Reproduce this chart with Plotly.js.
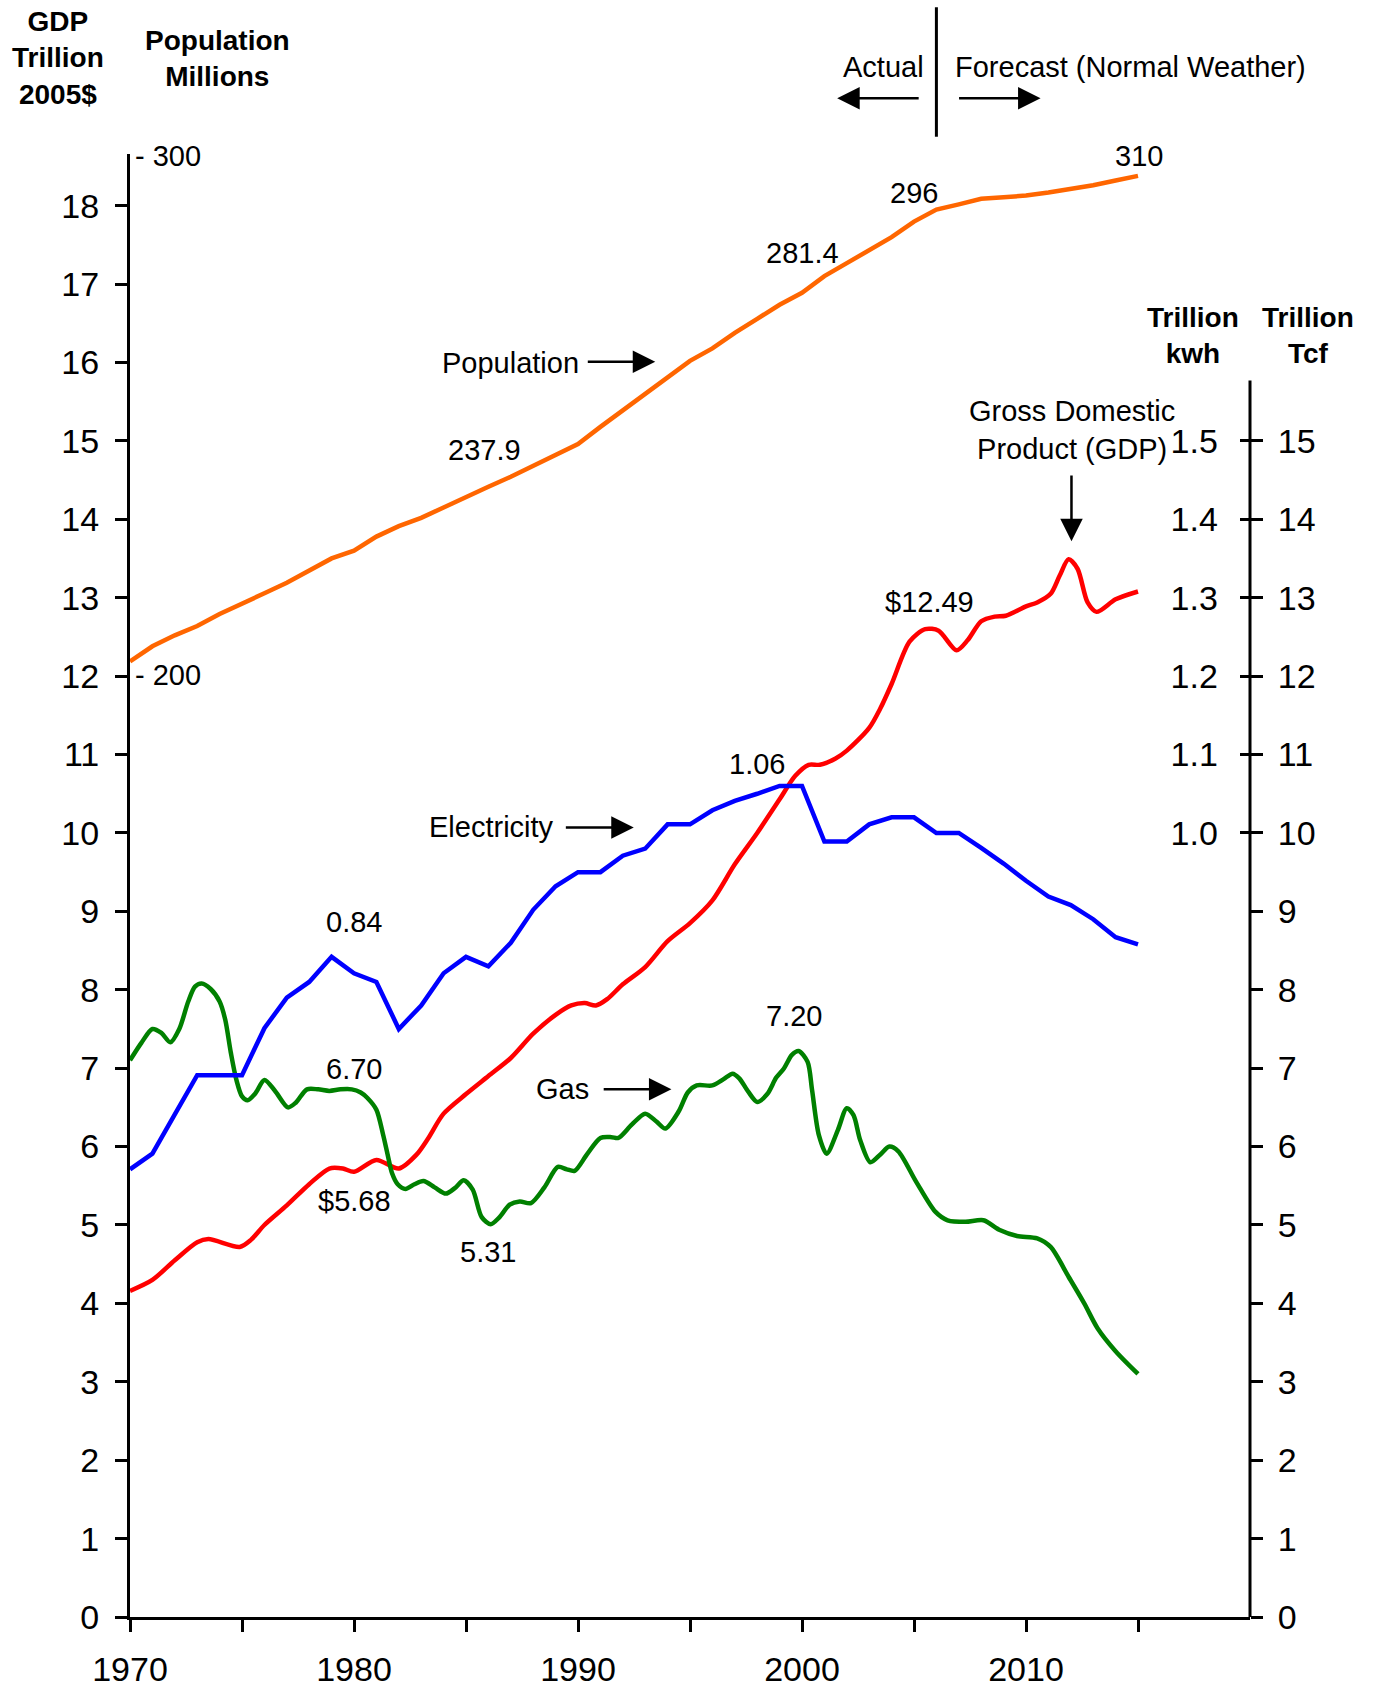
<!DOCTYPE html>
<html lang="en">
  <head>
    <meta charset="UTF-8" />
    <meta name="viewport" content="width=device-width, initial-scale=1.0" />
    <title>GDP, Population, Electricity and Gas</title>
    <script src="https://cdn.plot.ly/plotly-3.0.1.min.js"></script>
    <style>
      body { margin: 0; background: #fff; }
    </style>
  </head>
  <body>
    <div id="myDiv"></div>
    <script>
      var years = [
        1970, 1971, 1972, 1973, 1974, 1975, 1976, 1977, 1978, 1979,
        1980, 1981, 1982, 1983, 1984, 1985, 1986, 1987, 1988, 1989,
        1990, 1991, 1992, 1993, 1994, 1995, 1996, 1997, 1998, 1999,
        2000, 2001, 2002, 2003, 2004, 2005, 2006, 2007, 2008, 2009,
        2010, 2011, 2012, 2013, 2014, 2015,
      ];

      // population, millions (as drawn on the 200-300 scale)
      var population = [
        202.7, 205.6, 207.7, 209.5, 211.8, 213.7, 215.8, 217.8, 220.1, 222.5,
        224.0, 226.7, 228.7, 230.3, 232.3, 234.4, 236.3, 238.2, 240.3, 242.5,
        244.5, 247.8, 251.0, 254.1, 257.2, 260.5, 262.9, 265.9, 268.6, 271.3,
        273.6, 276.8, 279.3, 281.9, 284.3, 287.3, 289.6, 290.6, 291.7, 292.0,
        292.3, 292.9, 293.5, 294.3, 295.2, 296.1,
      ];

      // electricity, trillion kwh
      var electricity = [
        0.571, 0.591, 0.641, 0.691, 0.691, 0.691, 0.751, 0.790, 0.810, 0.842,
        0.821, 0.810, 0.750, 0.780, 0.821, 0.842, 0.830, 0.860, 0.902, 0.932,
        0.950, 0.950, 0.971, 0.980, 1.011, 1.011, 1.029, 1.041, 1.050, 1.060,
        1.060, 0.989, 0.989, 1.011, 1.020, 1.020, 1.000, 1.000, 0.981, 0.961,
        0.939, 0.919, 0.908, 0.890, 0.867, 0.858,
      ];

      // GDP, trillion 2005$
      var gdpYears = [
        1970, 1971, 1972, 1973, 1973.5, 1974.9, 1975.4, 1976, 1977, 1978,
        1978.9, 1979.5, 1980, 1981, 1982, 1982.8, 1983.3, 1984, 1985, 1986,
        1987, 1988, 1989, 1989.7, 1990.3, 1990.8, 1991.3, 1992, 1993, 1994,
        1995, 1996, 1997, 1998, 1999, 1999.7, 2000.3, 2000.8, 2001.5, 2002,
        2003, 2003.5, 2004, 2004.8, 2005.5, 2006.1, 2006.9, 2007.4, 2008, 2008.6,
        2009.1, 2010, 2010.5, 2011.1, 2011.5, 2011.9, 2012.3, 2012.75, 2013.15, 2014,
        2015,
      ];
      var gdp = [
        4.16, 4.30, 4.55, 4.78, 4.82, 4.72, 4.81, 5.00, 5.25, 5.52,
        5.72, 5.72, 5.68, 5.83, 5.72, 5.90, 6.10, 6.42, 6.67, 6.90,
        7.13, 7.44, 7.68, 7.80, 7.83, 7.80, 7.88, 8.07, 8.29, 8.62,
        8.85, 9.14, 9.60, 10.0, 10.43, 10.73, 10.87, 10.87, 10.95, 11.05,
        11.34, 11.59, 11.90, 12.44, 12.60, 12.58, 12.33, 12.46, 12.70, 12.76,
        12.77, 12.89, 12.94, 13.05, 13.28, 13.49, 13.37, 12.94, 12.82, 12.98,
        13.08,
      ];

      // natural gas, trillion cubic feet
      var gasYears = [
        1970.0, 1970.5, 1971.0, 1971.4, 1971.8, 1972.2, 1972.6, 1972.9, 1973.2, 1973.6,
        1974.0, 1974.25, 1974.5, 1974.75, 1975.0, 1975.25, 1975.6, 1976.0, 1976.5, 1977.05,
        1977.4, 1977.9, 1978.4, 1978.9, 1979.4, 1979.9, 1980.3, 1980.6, 1981.0, 1981.3,
        1981.5, 1981.7, 1981.95, 1982.3, 1982.7, 1983.1, 1983.6, 1984.1, 1984.5, 1984.9,
        1985.3, 1985.7, 1986.1, 1986.5, 1986.95, 1987.4, 1987.9, 1988.5, 1989.1, 1989.5,
        1989.85, 1990.4, 1991.0, 1991.5, 1991.8, 1992.4, 1993.0, 1993.5, 1993.9, 1994.5,
        1994.9, 1995.3, 1996.0, 1996.5, 1996.9, 1997.2, 1997.6, 1998.0, 1998.45, 1998.85,
        1999.2, 1999.55, 1999.85, 2000.25, 2000.45, 2000.75, 2001.1, 2001.6, 2002.0, 2002.3,
        2002.6, 2003.05, 2003.5, 2003.9, 2004.3, 2005.1, 2005.95, 2006.5, 2007.3, 2008.1,
        2008.8, 2009.6, 2010.5, 2011.1, 2011.9, 2012.6, 2013.2, 2014.0, 2015.0,
      ];
      var gas = [
        7.10, 7.32, 7.50, 7.45, 7.33, 7.50, 7.85, 8.04, 8.08, 8.01,
        7.85, 7.62, 7.20, 6.85, 6.64, 6.59, 6.68, 6.85, 6.70, 6.50,
        6.56, 6.73, 6.73, 6.71, 6.73, 6.73, 6.69, 6.62, 6.47, 6.15,
        5.90, 5.66, 5.52, 5.46, 5.52, 5.56, 5.48, 5.40, 5.47, 5.57,
        5.45, 5.10, 5.01, 5.10, 5.26, 5.30, 5.28, 5.48, 5.74, 5.71,
        5.69, 5.90, 6.11, 6.12, 6.11, 6.28, 6.42, 6.32, 6.23, 6.45,
        6.69, 6.78, 6.78, 6.86, 6.93, 6.87, 6.70, 6.57, 6.67, 6.88,
        7.00, 7.17, 7.22, 7.08, 6.72, 6.15, 5.91, 6.21, 6.49, 6.40,
        6.08, 5.80, 5.90, 6.00, 5.94, 5.55, 5.17, 5.06, 5.04, 5.06,
        4.94, 4.86, 4.83, 4.72, 4.34, 4.00, 3.68, 3.39, 3.10,
      ];

      var xTicks = [1970, 1975, 1980, 1985, 1990, 1995, 2000, 2005, 2010, 2015, 2020];
      var xTickText = ["1970", "", "1980", "", "1990", "", "2000", "", "2010", "", ""];
      var gdpTicks = [0, 1, 2, 3, 4, 5, 6, 7, 8, 9, 10, 11, 12, 13, 14, 15, 16, 17, 18];
      var tcfTicks = [0, 1, 2, 3, 4, 5, 6, 7, 8, 9, 10, 11, 12, 13, 14, 15];
      var kwhTicks = [1.0, 1.1, 1.2, 1.3, 1.4, 1.5];
      var popTicks = [200, 300];

      var font = "Liberation Sans, Arial, sans-serif";
      var yTop = 18.66;
      // population scale: 200 sits at 12.01 and 300 at 18.64 on the GDP scale
      var popPerUnit = 100 / (18.64 - 12.01);
      var popRange = [200 - 12.01 * popPerUnit, 200 + (yTop - 12.01) * popPerUnit];

      var data = [
        { x: years, y: population, yaxis: "y4", mode: "lines",
          line: { color: "#ff6600", width: 4.5 } },
        { x: gdpYears, y: gdp, mode: "lines",
          line: { color: "#ff0000", width: 4.5, shape: "spline", smoothing: 0.8 } },
        { x: years, y: electricity, yaxis: "y3", mode: "lines",
          line: { color: "#0000ff", width: 4.5 } },
        { x: gasYears, y: gas, yaxis: "y2", mode: "lines",
          line: { color: "#008000", width: 4.5, shape: "spline", smoothing: 0.8 } },
      ];
      data.forEach(function (t) { t.showlegend = false; t.hoverinfo = "skip"; });

      const txt = (text, x, y, extra) =>
        Object.assign({ text: text, x: x, y: y, xref: "x", yref: "y", showarrow: false,
          xanchor: "center", yanchor: "middle",
          font: { family: font, size: 29, color: "#000" } }, extra || {});
      const arrow = (x, y, ax, ay, extra) =>
        Object.assign({ text: "", x: x, y: y, ax: ax, ay: ay, xref: "x", yref: "y",
          axref: "x", ayref: "y", showarrow: true, arrowhead: 2, arrowsize: 1.8,
          arrowwidth: 2.5, arrowcolor: "#000", standoff: 0 }, extra || {});
      const bold = (text, x, y) =>
        txt("<b>" + text + "</b>", x, y, { xref: "paper", yref: "paper",
          font: { family: font, size: 28, color: "#000" } });

      var annotations = [
        bold("GDP<br>Trillion<br>2005$", -0.0646, 1.0654),
        bold("Population<br>Millions", 0.0783, 1.0654),
        bold("Trillion<br>kwh", 0.9488, 0.8757),
        bold("Trillion<br>Tcf", 1.0515, 0.8757),
        txt("Actual", 0.7103, 1.0597, { xref: "paper", yref: "paper", xanchor: "right" }),
        txt("Forecast (Normal Weather)", 0.7348, 1.0597, { xref: "paper", yref: "paper", xanchor: "left" }),
        arrow(2001.57, 1.0381, 83, 0, { yref: "paper", axref: "pixel", ayref: "pixel" }),
        arrow(2010.65, 1.0381, -83, 0, { yref: "paper", axref: "pixel", ayref: "pixel" }),

        txt("310", 2015.06, 18.64),
        txt("296", 2005.01, 18.16),
        txt("281.4", 2000.0, 17.4),
        txt("237.9", 1985.82, 14.88),
        txt("$12.49", 2005.68, 12.94),
        txt("1.06", 1997.98, 10.88),
        txt("0.84", 1980.0, 8.87),
        txt("6.70", 1980.0, 6.99),
        txt("$5.68", 1980.0, 5.3),
        txt("5.31", 1985.96, 4.66),
        txt("7.20", 1999.65, 7.66),

        txt("Population", 1986.98, 15.99),
        arrow(1993.45, 16.01, 1990.37, 16.01),
        txt("Electricity", 1986.12, 10.08),
        arrow(1992.49, 10.07, 1989.39, 10.07),
        txt("Gas", 1989.32, 6.73),
        arrow(1994.17, 6.73, 1991.08, 6.73),
        txt("Gross Domestic<br>Product (GDP)", 2012.05, 15.14),
        arrow(2012.03, 13.72, 2012.03, 14.58),
      ];

      // population scale labels sit just inside the left axis
      popTicks.forEach(function (p) {
        annotations.push(txt("- " + p, 0, p, { xref: "paper", yref: "y4", xanchor: "left", xshift: 3 }));
      });

      var tickFont = { family: font, size: 34, color: "#000" };

      var layout = {
        width: 1374,
        height: 1687,
        autosize: false,
        margin: { l: 130, r: 124, t: 154, b: 70 },
        paper_bgcolor: "#fff",
        plot_bgcolor: "#fff",
        font: { family: font, color: "#000" },
        xaxis: {
          range: [1970, 2020], tickmode: "array", tickvals: xTicks, ticktext: xTickText,
          ticks: "outside", ticklen: 12, tickwidth: 3, tickcolor: "#000", ticklabelstandoff: 8,
          showline: true, linewidth: 3, linecolor: "#000",
          showgrid: false, zeroline: false, tickfont: tickFont,
        },
        yaxis: {
          range: [0, yTop], tickmode: "array", tickvals: gdpTicks,
          ticks: "outside", ticklen: 12, tickwidth: 3, tickcolor: "#000", ticklabelstandoff: 9,
          showline: true, linewidth: 3, linecolor: "#000",
          showgrid: false, zeroline: false, tickfont: tickFont,
        },
        yaxis2: {
          overlaying: "y", anchor: "x", side: "right", range: [0, yTop],
          tickmode: "array", tickvals: tcfTicks,
          ticks: "outside", ticklen: 12, tickwidth: 3, tickcolor: "#000", ticklabelstandoff: 8,
          showline: false, showgrid: false, zeroline: false, tickfont: tickFont,
        },
        yaxis3: {
          overlaying: "y", anchor: "x", side: "right", range: [0, yTop / 10],
          tickmode: "array", tickvals: kwhTicks, ticktext: kwhTicks.map((v) => v.toFixed(1)),
          ticks: "inside", ticklen: 10, tickwidth: 3, tickcolor: "#000",
          ticklabelposition: "inside", ticklabelstandoff: 26,
          showline: false, showgrid: false, zeroline: false, tickfont: tickFont,
        },
        yaxis4: {
          overlaying: "y", anchor: "x", side: "left", range: popRange,
          showticklabels: false, ticks: "",
          showline: false, showgrid: false, zeroline: false,
        },
        shapes: [
          // right axis line stops below the top of the frame
          { type: "line", xref: "paper", yref: "y", x0: 1, x1: 1, y0: 0, y1: 15.77,
            line: { color: "#000", width: 3 } },
          // actual / forecast divider
          { type: "line", xref: "x", yref: "paper", x0: 2006, x1: 2006, y0: 1.0118, y1: 1.1003,
            line: { color: "#000", width: 3 } },
        ],
        annotations: annotations,
      };

      Plotly.newPlot("myDiv", data, layout, { staticPlot: true });
    </script>
  </body>
</html>
